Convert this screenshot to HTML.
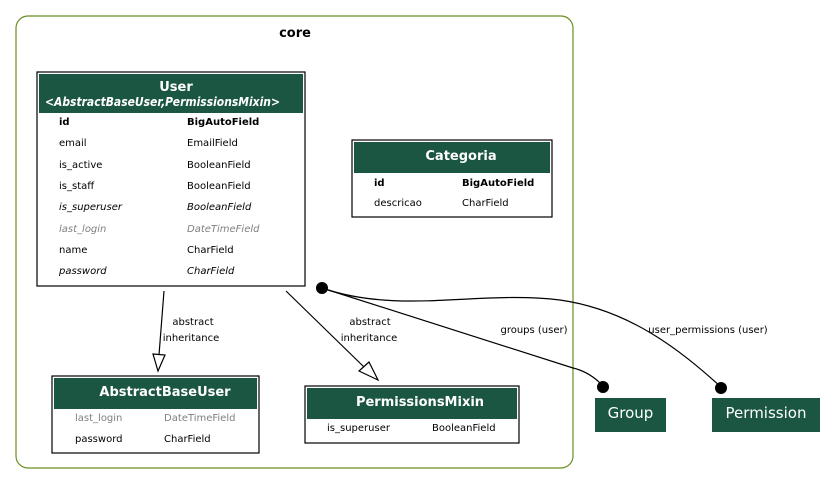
<!DOCTYPE html>
<html><head><meta charset="utf-8"><style>
html,body{margin:0;padding:0;background:#fff;}
svg{display:block;}
text{font-family:"DejaVu Sans","Liberation Sans",sans-serif;font-size:10px;fill:#000;}
.t{font-weight:bold;fill:#fff;font-size:13px;}
.b{font-weight:bold;}
.i{font-style:italic;}
.g{fill:#808080;font-style:italic;}
.g2{fill:#808080;}
.l{font-size:10px;}
</style></head><body>
<svg width="837" height="486" viewBox="0 0 837 486" xmlns="http://www.w3.org/2000/svg">
<rect x="16" y="16" width="557" height="452" rx="12" fill="#fff" stroke="#6b8e23" stroke-width="1.2"/>
<text x="295" y="37" text-anchor="middle" class="b" style="font-size:13px">core</text>

<!-- User -->
<rect x="37" y="72" width="268" height="214" fill="#fff" stroke="#000" stroke-width="1.2"/>
<rect x="39" y="74" width="264" height="39" fill="#1a5641"/>
<text x="176" y="91" text-anchor="middle" class="t">User</text>
<text x="45" y="106" class="t i" style="font-size:12px" textLength="235" lengthAdjust="spacingAndGlyphs">&lt;AbstractBaseUser,PermissionsMixin&gt;</text>
<text x="59" y="125" class="b">id</text><text x="187" y="125" class="b">BigAutoField</text>
<text x="59" y="146">email</text><text x="187" y="146">EmailField</text>
<text x="59" y="168">is_active</text><text x="187" y="168">BooleanField</text>
<text x="59" y="189">is_staff</text><text x="187" y="189">BooleanField</text>
<text x="59" y="210" class="i">is_superuser</text><text x="187" y="210" class="i">BooleanField</text>
<text x="59" y="232" class="g">last_login</text><text x="187" y="232" class="g">DateTimeField</text>
<text x="59" y="253">name</text><text x="187" y="253">CharField</text>
<text x="59" y="274" class="i">password</text><text x="187" y="274" class="i">CharField</text>

<!-- Categoria -->
<rect x="352" y="140" width="200" height="77" fill="#fff" stroke="#000" stroke-width="1.2"/>
<rect x="354" y="142" width="196" height="31" fill="#1a5641"/>
<text x="461" y="160" text-anchor="middle" class="t">Categoria</text>
<text x="374" y="186" class="b">id</text><text x="462" y="186" class="b">BigAutoField</text>
<text x="374" y="206">descricao</text><text x="462" y="206">CharField</text>

<!-- AbstractBaseUser -->
<rect x="52" y="376" width="207" height="77" fill="#fff" stroke="#000" stroke-width="1.2"/>
<rect x="54" y="378" width="203" height="31" fill="#1a5641"/>
<text x="165" y="396" text-anchor="middle" class="t">AbstractBaseUser</text>
<text x="75" y="421" class="g2">last_login</text><text x="164" y="421" class="g2">DateTimeField</text>
<text x="75" y="442">password</text><text x="164" y="442">CharField</text>

<!-- PermissionsMixin -->
<rect x="305" y="386" width="214" height="57" fill="#fff" stroke="#000" stroke-width="1.2"/>
<rect x="307" y="388" width="210" height="31" fill="#1a5641"/>
<text x="420" y="406" text-anchor="middle" class="t">PermissionsMixin</text>
<text x="327" y="431">is_superuser</text><text x="432" y="431">BooleanField</text>

<!-- Group / Permission -->
<rect x="595" y="398" width="71" height="34" fill="#1a5641"/>
<text x="630.5" y="418" text-anchor="middle" style="fill:#fff;font-size:15px">Group</text>
<rect x="712" y="398" width="108" height="34" fill="#1a5641"/>
<text x="766" y="418" text-anchor="middle" style="fill:#fff;font-size:15px">Permission</text>

<!-- inheritance edges -->
<line x1="164" y1="291" x2="159" y2="355" stroke="#000" stroke-width="1.2"/>
<polygon points="153,354 165,355 158,371" fill="#fff" stroke="#000" stroke-width="1.2"/>
<text x="193" y="325" text-anchor="middle" class="l">abstract</text>
<text x="191" y="341" text-anchor="middle" class="l">inheritance</text>
<line x1="286" y1="291" x2="364" y2="367" stroke="#000" stroke-width="1.2"/>
<polygon points="359,371 369,362 378,380" fill="#fff" stroke="#000" stroke-width="1.2"/>
<text x="370" y="325" text-anchor="middle" class="l">abstract</text>
<text x="369" y="341" text-anchor="middle" class="l">inheritance</text>

<!-- relations -->
<circle cx="322" cy="288" r="6" fill="#000"/>
<path d="M322,288 L573,368 Q590,372 603,386" fill="none" stroke="#000" stroke-width="1.2"/>
<circle cx="603" cy="387" r="6" fill="#000"/>
<path d="M322,288 C400,315 480,290 560,300 C630,310 680,350 721,387" fill="none" stroke="#000" stroke-width="1.2"/>
<circle cx="721" cy="388" r="6" fill="#000"/>
<text x="534" y="333" text-anchor="middle" class="l">groups (user)</text>
<text x="708" y="333" text-anchor="middle" class="l">user_permissions (user)</text>
</svg>
</body></html>
